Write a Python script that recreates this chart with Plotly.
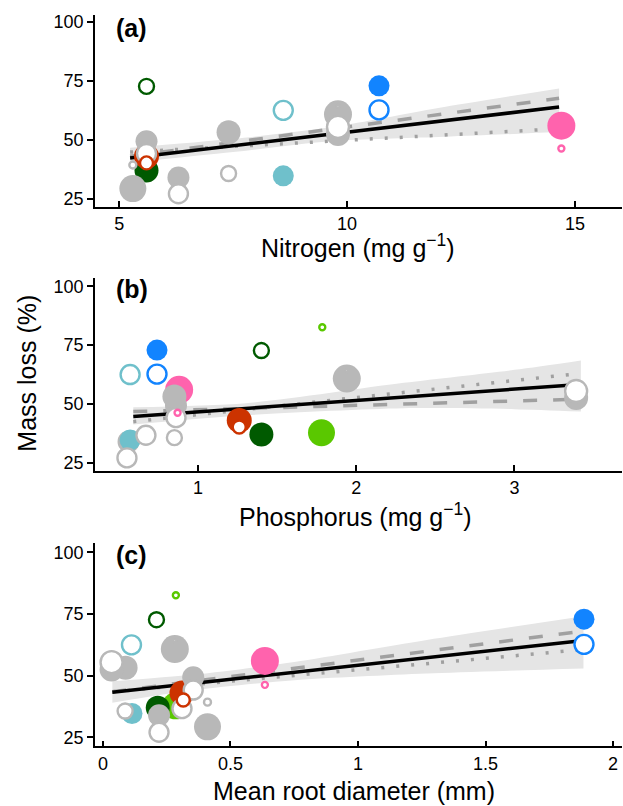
import plotly.graph_objects as go

nan = float("nan")

# ---------------- data ----------------
species = ["DarkGreen", "LightGreen", "Red", "Pink", "Blue", "Cyan",
           "Grey1", "Grey2", "Grey3", "Grey4", "Grey5", "Grey6", "Grey7"]
colors = ["#005a00", "#5ac800", "#cc3300", "#ff63ad", "#1284ff", "#6fc0cb",
          "#b8b8b8", "#b8b8b8", "#b8b8b8", "#b8b8b8", "#b8b8b8", "#b8b8b8", "#b8b8b8"]

# trait values (x) for filled and open symbols
N_filled = [5.6, nan, 5.6, 14.7, 10.7, 8.6, 5.3, 5.6, 6.3, 7.4, 9.8, 9.8, nan]
N_open = [5.6, nan, 5.6, 14.7, 10.7, 8.6, 5.3, 5.6, 6.3, 7.4, 9.8, 9.8, nan]
P_filled = [1.40, 1.78, 1.26, 0.88, 0.74, 0.57, nan, 0.86, 0.56, 0.85, 1.94, 3.39, nan]
P_open = [1.40, 1.785, 1.26, 0.87, 0.74, 0.57, nan, 0.86, 0.55, 0.85, 1.94, 3.39, 0.67]
RD_filled = [0.215, 0.285, 0.31, 0.635, 1.886, 0.114, 0.41, 0.354, 0.22, 0.089, 0.282, 0.034, nan]
RD_open = [0.21, 0.286, 0.315, 0.635, 1.886, 0.112, 0.41, 0.354, 0.22, 0.087, 0.282, 0.034, 0.31]

# mass loss (%)
ml_filled = [37.0, 37.8, 43.0, 56.0, 72.9, 34.7, 29.3, 49.4, 34.0, 53.2, 60.8, 52.5, nan]
ml_open = [72.7, 82.6, 40.2, 46.3, 62.7, 62.5, 39.3, 44.2, 27.1, 35.7, 64.2, 55.5, 36.7]

# symbol diameters
size_filled = [24, 27, 25, 28, 21, 21, 27, 22, 22, 24, 28, 24, 0]
size_open = [15, 6, 13, 6, 19, 19, 7, 19, 19, 15, 3, 22, 19]

filled_order = [1, 3, 0, 2, 6, 7, 8, 9, 10, 11, 5, 4]
open_order = [6, 7, 8, 9, 10, 11, 12, 5, 4, 0, 1, 3, 2]

# fitted lines: x ends, and y at the ends
N_line_x = [5.24, 14.65]
N_solid = [42.3, 63.9]
N_dashed = [43.0, 67.6]
N_dotted = [44.8, 54.7]
N_band_x = [5.24, 7.5, 9.7, 12.0, 14.65]
N_band_hi = [46.6, 50.4, 55.5, 63.5, 71.8]
N_band_lo = [40.3, 44.8, 49.5, 51.2, 53.3]

P_line_x = [0.59, 3.39]
P_solid = [44.7, 58.2]
P_dashed = [46.8, 52.0]
P_dotted = [42.5, 62.8]
P_band_x = [0.59, 1.3, 2.3, 3.0, 3.42]
P_band_hi = [48.6, 50.3, 59.0, 64.5, 68.5]
P_band_lo = [41.3, 45.2, 48.2, 47.8, 46.8]

RD_line_x = [0.037, 1.884]
RD_solid = [43.3, 64.3]
RD_dashed = [43.5, 68.1]
RD_dotted = [43.5, 60.6]
RD_band_x = [0.037, 0.36, 0.75, 1.27, 1.884]
RD_band_hi = [47.8, 50.5, 55.6, 64.5, 74.1]
RD_band_lo = [39.1, 44.2, 48.2, 50.9, 52.9]

x_titles = ["Nitrogen (mg g<sup>−1</sup>)", "Phosphorus (mg g<sup>−1</sup>)", "Mean root diameter (mm)"]
panel_labels = ["(a)", "(b)", "(c)"]
y_title = "Mass loss (%)"
y_ticks = [25, 50, 75, 100]
x_ticks = [[5, 10, 15], [1, 2, 3], [0, 0.5, 1, 1.5, 2]]
x_ticktext = [["5", "10", "15"], ["1", "2", "3"], ["0", "0.5", "1", "1.5", "2"]]

# ---------------- figure ----------------
W, H = 623, 806
FONT = "Liberation Sans, Arial, sans-serif"
GREY_LINE = "#a0a0a0"
BAND = "rgb(229,229,229)"

panels = [
    dict(fx=N_filled, ox=N_open, lx=N_line_x, solid=N_solid, dashed=N_dashed, dotted=N_dotted,
         bx=N_band_x, bhi=N_band_hi, blo=N_band_lo, xr=[4.47, 16.03], yr=[21.6, 103.0],
         top=12, bottom=205),
    dict(fx=P_filled, ox=P_open, lx=P_line_x, solid=P_solid, dashed=P_dashed, dotted=P_dotted,
         bx=P_band_x, bhi=P_band_hi, blo=P_band_lo, xr=[0.348, 3.68], yr=[21.5, 103.4],
         top=277, bottom=471),
    dict(fx=RD_filled, ox=RD_open, lx=RD_line_x, solid=RD_solid, dashed=RD_dashed, dotted=RD_dotted,
         bx=RD_band_x, bhi=RD_band_hi, blo=RD_band_lo, xr=[-0.031, 2.035], yr=[21.4, 103.9],
         top=543, bottom=748),
]

fig = go.Figure()
layout = {}
annotations = []
title_y = [245, 515, 793]
title_x = [358, 355, 354]
label_y = [25, 288, 555]

for i, p in enumerate(panels):
    k = "" if i == 0 else str(i + 1)
    xa, ya = "x" + k, "y" + k
    # band
    fig.add_trace(go.Scatter(x=p["bx"], y=p["bhi"], xaxis=xa, yaxis=ya, mode="lines",
                             line=dict(width=0, shape="spline", smoothing=0.8, color=BAND),
                             showlegend=False, hoverinfo="skip"))
    fig.add_trace(go.Scatter(x=p["bx"], y=p["blo"], xaxis=xa, yaxis=ya, mode="lines",
                             line=dict(width=0, shape="spline", smoothing=0.8, color=BAND),
                             fill="tonexty", fillcolor=BAND, showlegend=False, hoverinfo="skip"))
    # lines
    fig.add_trace(go.Scatter(x=p["lx"], y=p["dotted"], xaxis=xa, yaxis=ya, mode="lines",
                             line=dict(color=GREY_LINE, width=3.5, dash="3px,12px"), showlegend=False))
    fig.add_trace(go.Scatter(x=p["lx"], y=p["dashed"], xaxis=xa, yaxis=ya, mode="lines",
                             line=dict(color=GREY_LINE, width=3.5, dash="14px,16px"), showlegend=False))
    fig.add_trace(go.Scatter(x=p["lx"], y=p["solid"], xaxis=xa, yaxis=ya, mode="lines",
                             line=dict(color="black", width=3.5), showlegend=False))
    # filled symbols
    fo = [j for j in filled_order if p["fx"][j] == p["fx"][j] and ml_filled[j] == ml_filled[j]]
    fig.add_trace(go.Scatter(x=[p["fx"][j] for j in fo], y=[ml_filled[j] for j in fo],
                             xaxis=xa, yaxis=ya, mode="markers", showlegend=False,
                             text=[species[j] for j in fo],
                             marker=dict(size=[size_filled[j] for j in fo],
                                         color=[colors[j] for j in fo],
                                         line=dict(width=0), opacity=1)))
    # open symbols
    oo = [j for j in open_order if p["ox"][j] == p["ox"][j]]
    fig.add_trace(go.Scatter(x=[p["ox"][j] for j in oo], y=[ml_open[j] for j in oo],
                             xaxis=xa, yaxis=ya, mode="markers", showlegend=False,
                             text=[species[j] for j in oo],
                             marker=dict(size=[size_open[j] for j in oo], color="white",
                                         line=dict(width=2.4, color=[colors[j] for j in oo]),
                                         opacity=1)))

    layout["xaxis" + k] = dict(domain=[95 / W, 622 / W], anchor=ya, range=p["xr"],
                               showline=True, linecolor="black", linewidth=1.5,
                               ticks="inside", ticklen=6, tickwidth=1.5, tickcolor="black",
                               tickvals=x_ticks[i], ticktext=x_ticktext[i],
                               showgrid=False, zeroline=False,
                               tickfont=dict(size=18, color="black", family=FONT))
    layout["yaxis" + k] = dict(domain=[1 - p["bottom"] / H, 1 - p["top"] / H], anchor=xa,
                               range=p["yr"], showline=True, linecolor="black", linewidth=1.5,
                               ticks="outside", ticklen=6, tickwidth=1.5, tickcolor="black",
                               tickvals=y_ticks, showgrid=False, zeroline=False,
                               tickfont=dict(size=18, color="black", family=FONT))
    annotations.append(dict(text=x_titles[i], x=title_x[i] / W, y=1 - title_y[i] / H,
                            xref="paper", yref="paper", showarrow=False,
                            xanchor="center", yanchor="middle",
                            font=dict(size=25, color="black", family=FONT)))
    annotations.append(dict(text="<b>" + panel_labels[i] + "</b>", x=114 / W, y=1 - label_y[i] / H,
                            xref="paper", yref="paper", showarrow=False,
                            xanchor="left", yanchor="middle",
                            font=dict(size=25, color="black", family=FONT)))

annotations.append(dict(text=y_title, x=27 / W, y=1 - 373 / H, xref="paper", yref="paper",
                        showarrow=False, textangle=-90, xanchor="center", yanchor="middle",
                        font=dict(size=25, color="black", family=FONT)))

fig.update_layout(width=W, height=H, margin=dict(l=0, r=0, t=0, b=0),
                  paper_bgcolor="white", plot_bgcolor="white",
                  font=dict(family=FONT, color="black"),
                  annotations=annotations, **layout)

fig.write_html("out.html", config={"displayModeBar": False},
               post_script="document.body.style.margin='0';document.body.style.overflow='hidden';")
